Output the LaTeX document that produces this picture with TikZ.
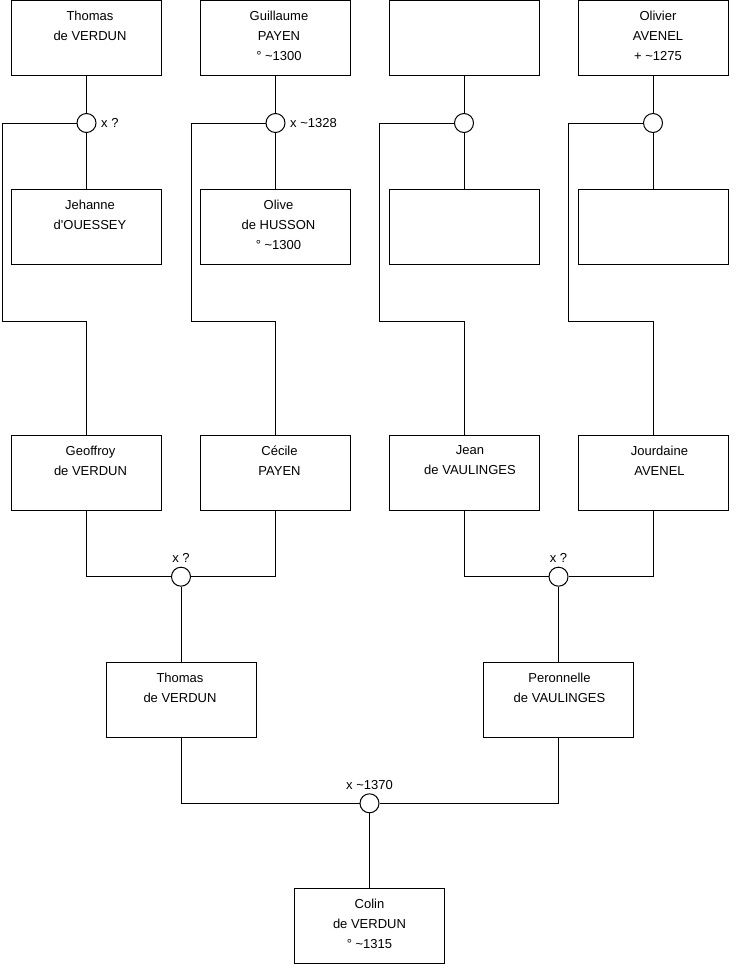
\documentclass[tikz,border=0pt]{standalone}
\usepackage{fontspec}
\setmainfont{Liberation Sans}
\begin{document}
\begin{tikzpicture}[x=1pt,y=-1pt,
  pbox/.style={draw=black, line width=1pt, minimum width=150pt, minimum height=75pt, inner sep=0pt, fill=white},
  ptext/.style={anchor=north, align=center, inner sep=0pt, font=\fontsize{13}{19.7}\selectfont},
  mar/.style={draw=black, circle, line width=1pt, minimum size=19pt, inner sep=0pt, fill=white},
  lbl/.style={inner sep=0pt, font=\fontsize{13}{15}\selectfont},
  conn/.style={line width=1pt, draw=black}]
\fill[white] (0,0) rectangle (740,975);
\useasboundingbox (0,0) rectangle (740,975);

% row 1
\node[pbox] (a1) at (86.5,38) {};
\node[pbox] (a2) at (275.5,38) {};
\node[pbox] (a3) at (464,38) {};
\node[pbox] (a4) at (653,38) {};
% row 2
\node[pbox] (b1) at (86.5,227) {};
\node[pbox] (b2) at (275.5,227) {};
\node[pbox] (b3) at (464,227) {};
\node[pbox] (b4) at (653,227) {};
% row 3
\node[pbox] (g1) at (86.5,472.5) {};
\node[pbox] (g2) at (275.5,472.5) {};
\node[pbox] (g3) at (464,472.5) {};
\node[pbox] (g4) at (653,472.5) {};
% row 4
\node[pbox] (h1) at (181,699.5) {};
\node[pbox] (h2) at (558.5,699.5) {};
% bottom
\node[pbox] (colin) at (369.5,926) {};

% texts
\node[ptext] (ta1) at ([xshift=3.5pt,yshift=-11.3pt]a1.north) {Thomas\\de VERDUN};
\node[ptext] (ta2) at ([xshift=3.5pt,yshift=-11.3pt]a2.north) {Guillaume\\PAYEN\\° \textasciitilde1300};
\node[ptext] (ta4) at ([xshift=5pt,yshift=-11.3pt]a4.north) {Olivier\\AVENEL\\+ \textasciitilde1275};
\node[ptext] (tb1) at ([xshift=3.5pt,yshift=-11.3pt]b1.north) {Jehanne\\d\textquotesingle OUESSEY};
\node[ptext] (tb2) at ([xshift=3pt,yshift=-11.3pt]b2.north) {Olive\\de HUSSON\\° \textasciitilde1300};
\node[ptext] (tg1) at ([xshift=4pt,yshift=-11.3pt]g1.north) {Geoffroy\\de VERDUN};
\node[ptext] (tg2) at ([xshift=4pt,yshift=-11.3pt]g2.north) {Cécile\\PAYEN};
\node[ptext] (tg3) at ([xshift=6pt,yshift=-11.3pt]g3.north) {Jean\\de VAULINGES};
\node[ptext] (tg4) at ([xshift=6.5pt,yshift=-11.3pt]g4.north) {Jourdaine\\AVENEL};
\node[ptext] (th1) at ([xshift=-1pt,yshift=-11.3pt]h1.north) {Thomas\\de VERDUN};
\node[ptext] (th2) at ([xshift=1pt,yshift=-11.3pt]h2.north) {Peronnelle\\de VAULINGES};
\node[ptext] (tco) at ([yshift=-11.3pt]colin.north) {Colin\\de VERDUN\\° \textasciitilde1315};

% marriage circles
\node[mar] (c1) at (86.5,123) {};
\node[mar] (c2) at (275.5,123) {};
\node[mar] (c3) at (464,123) {};
\node[mar] (c4) at (653,123) {};
\node[mar] (m1) at (181,576.7) {};
\node[mar] (m2) at (558.5,576.7) {};
\node[mar] (m3) at (369.5,803.3) {};

% free corners
\coordinate (k1a) at (2,123);   \coordinate (k1b) at (2,321);
\coordinate (k2a) at (191,123); \coordinate (k2b) at (191,321);
\coordinate (k3a) at (379,123); \coordinate (k3b) at (379,321);
\coordinate (k4a) at (568,123); \coordinate (k4b) at (568,321);

% connectors row 1-2
\foreach \i in {1,2,3,4}{
  \draw[conn] (a\i.south) -- (c\i.north);
  \draw[conn] (c\i.south) -- (b\i.north);
  \draw[conn] (c\i.west) -- (k\i a) -- (k\i b) -| (g\i.north);
}
% row 3 to 4
\draw[conn] (g1.south) |- (m1.west);
\draw[conn] (g2.south) |- (m1.east);
\draw[conn] (m1.south) -- (h1.north);
\draw[conn] (g3.south) |- (m2.west);
\draw[conn] (g4.south) |- (m2.east);
\draw[conn] (m2.south) -- (h2.north);
% row 4 to bottom
\draw[conn] (h1.south) |- (m3.west);
\draw[conn] (h2.south) |- (m3.east);
\draw[conn] (m3.south) -- (colin.north);

% labels
\node[lbl, anchor=base west] (l1) at ([xshift=4.5pt,yshift=-4.6pt]c1.east) {x ?};
\node[lbl, anchor=base west] (l2) at ([xshift=4.5pt,yshift=-4.6pt]c2.east) {x \textasciitilde1328};
\node[lbl, anchor=base] (l3) at ([yshift=3.8pt]m1.north) {x ?};
\node[lbl, anchor=base] (l4) at ([yshift=3.8pt]m2.north) {x ?};
\node[lbl, anchor=base] (l5) at ([yshift=4.3pt]m3.north) {x \textasciitilde1370};
\end{tikzpicture}
\end{document}
